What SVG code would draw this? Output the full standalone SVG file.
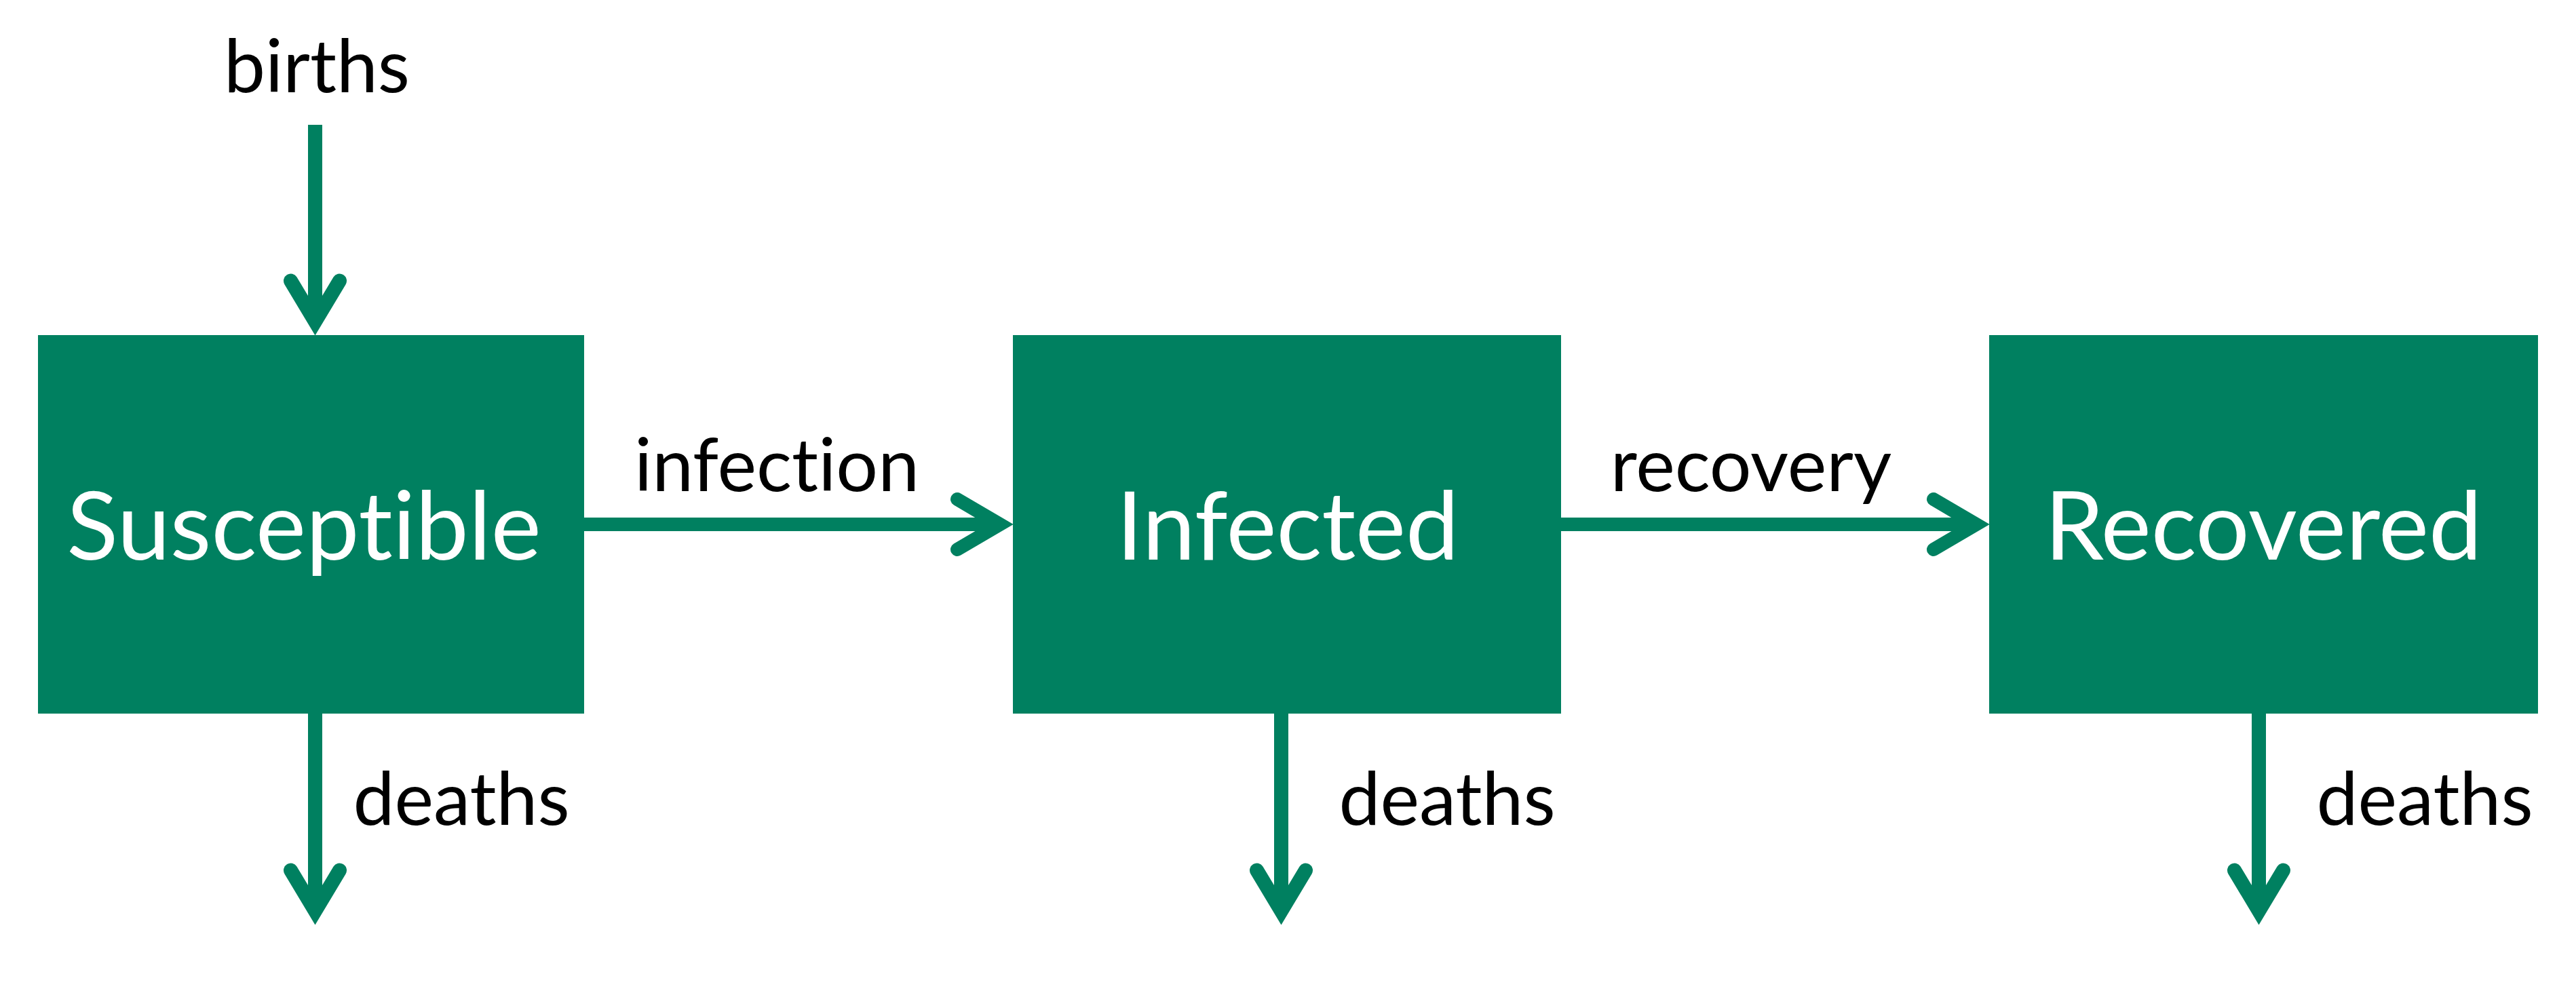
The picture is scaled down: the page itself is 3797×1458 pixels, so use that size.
<svg xmlns="http://www.w3.org/2000/svg" width="3797" height="1458" viewBox="0 0 3797 1458">
<style>
.box{fill:#008060;}
.node-text{font-family:Lato,"Open Sans","Liberation Sans",sans-serif;font-size:140px;fill:#ffffff;text-anchor:middle;font-variant-ligatures:none;}
.label{font-family:Lato,"Open Sans","Liberation Sans",sans-serif;font-size:109px;fill:#000000;text-anchor:middle;font-variant-ligatures:none;}
.shaft{stroke:#008060;fill:none;stroke-linecap:butt;}
.head{stroke:#008060;fill:none;stroke-linecap:round;stroke-linejoin:miter;stroke-miterlimit:6;}
.h{stroke-width:20;}
.v{stroke-width:21;}
</style>
<rect width="3797" height="1458" fill="#ffffff"/>
<g id="connectors">
  <g id="births">
    <line class="shaft v" x1="464.5" y1="184" x2="464.5" y2="476"/>
    <polyline class="head v" points="428.5,414 464.5,474 500.5,414"/>
  </g>
  <g id="infection">
    <line class="shaft h" x1="861" y1="773" x2="1476" y2="773"/>
    <polyline class="head h" points="1411,736 1474,773 1411,810"/>
  </g>
  <g id="recovery">
    <line class="shaft h" x1="2301" y1="773" x2="2915" y2="773"/>
    <polyline class="head h" points="2850,736 2913,773 2850,810"/>
  </g>
  <g id="deaths-s">
    <line class="shaft v" x1="464.5" y1="1052" x2="464.5" y2="1345"/>
    <polyline class="head v" points="428.5,1283 464.5,1343 500.5,1283"/>
  </g>
  <g id="deaths-i">
    <line class="shaft v" x1="1888.5" y1="1052" x2="1888.5" y2="1345"/>
    <polyline class="head v" points="1852.5,1283 1888.5,1343 1924.5,1283"/>
  </g>
  <g id="deaths-r">
    <line class="shaft v" x1="3329.5" y1="1052" x2="3329.5" y2="1345"/>
    <polyline class="head v" points="3293.5,1283 3329.5,1343 3365.5,1283"/>
  </g>
  <text class="label" x="467" y="136">births</text>
  <text class="label" x="1145" y="724">infection</text>
  <text class="label" x="2581" y="724">recovery</text>
  <text class="label" x="680" y="1216">deaths</text>
  <text class="label" x="2133" y="1216">deaths</text>
  <text class="label" x="3574" y="1216">deaths</text>
</g>
<g id="susceptible">
  <rect class="box" x="56" y="494" width="805" height="558"/>
  <text class="node-text" x="448" y="825">Susceptible</text>
</g>
<g id="infected">
  <rect class="box" x="1493" y="494" width="808" height="558"/>
  <text class="node-text" x="1898" y="825">Infected</text>
</g>
<g id="recovered">
  <rect class="box" x="2932" y="494" width="809" height="558"/>
  <text class="node-text" x="3336" y="825">Recovered</text>
</g>
</svg>
